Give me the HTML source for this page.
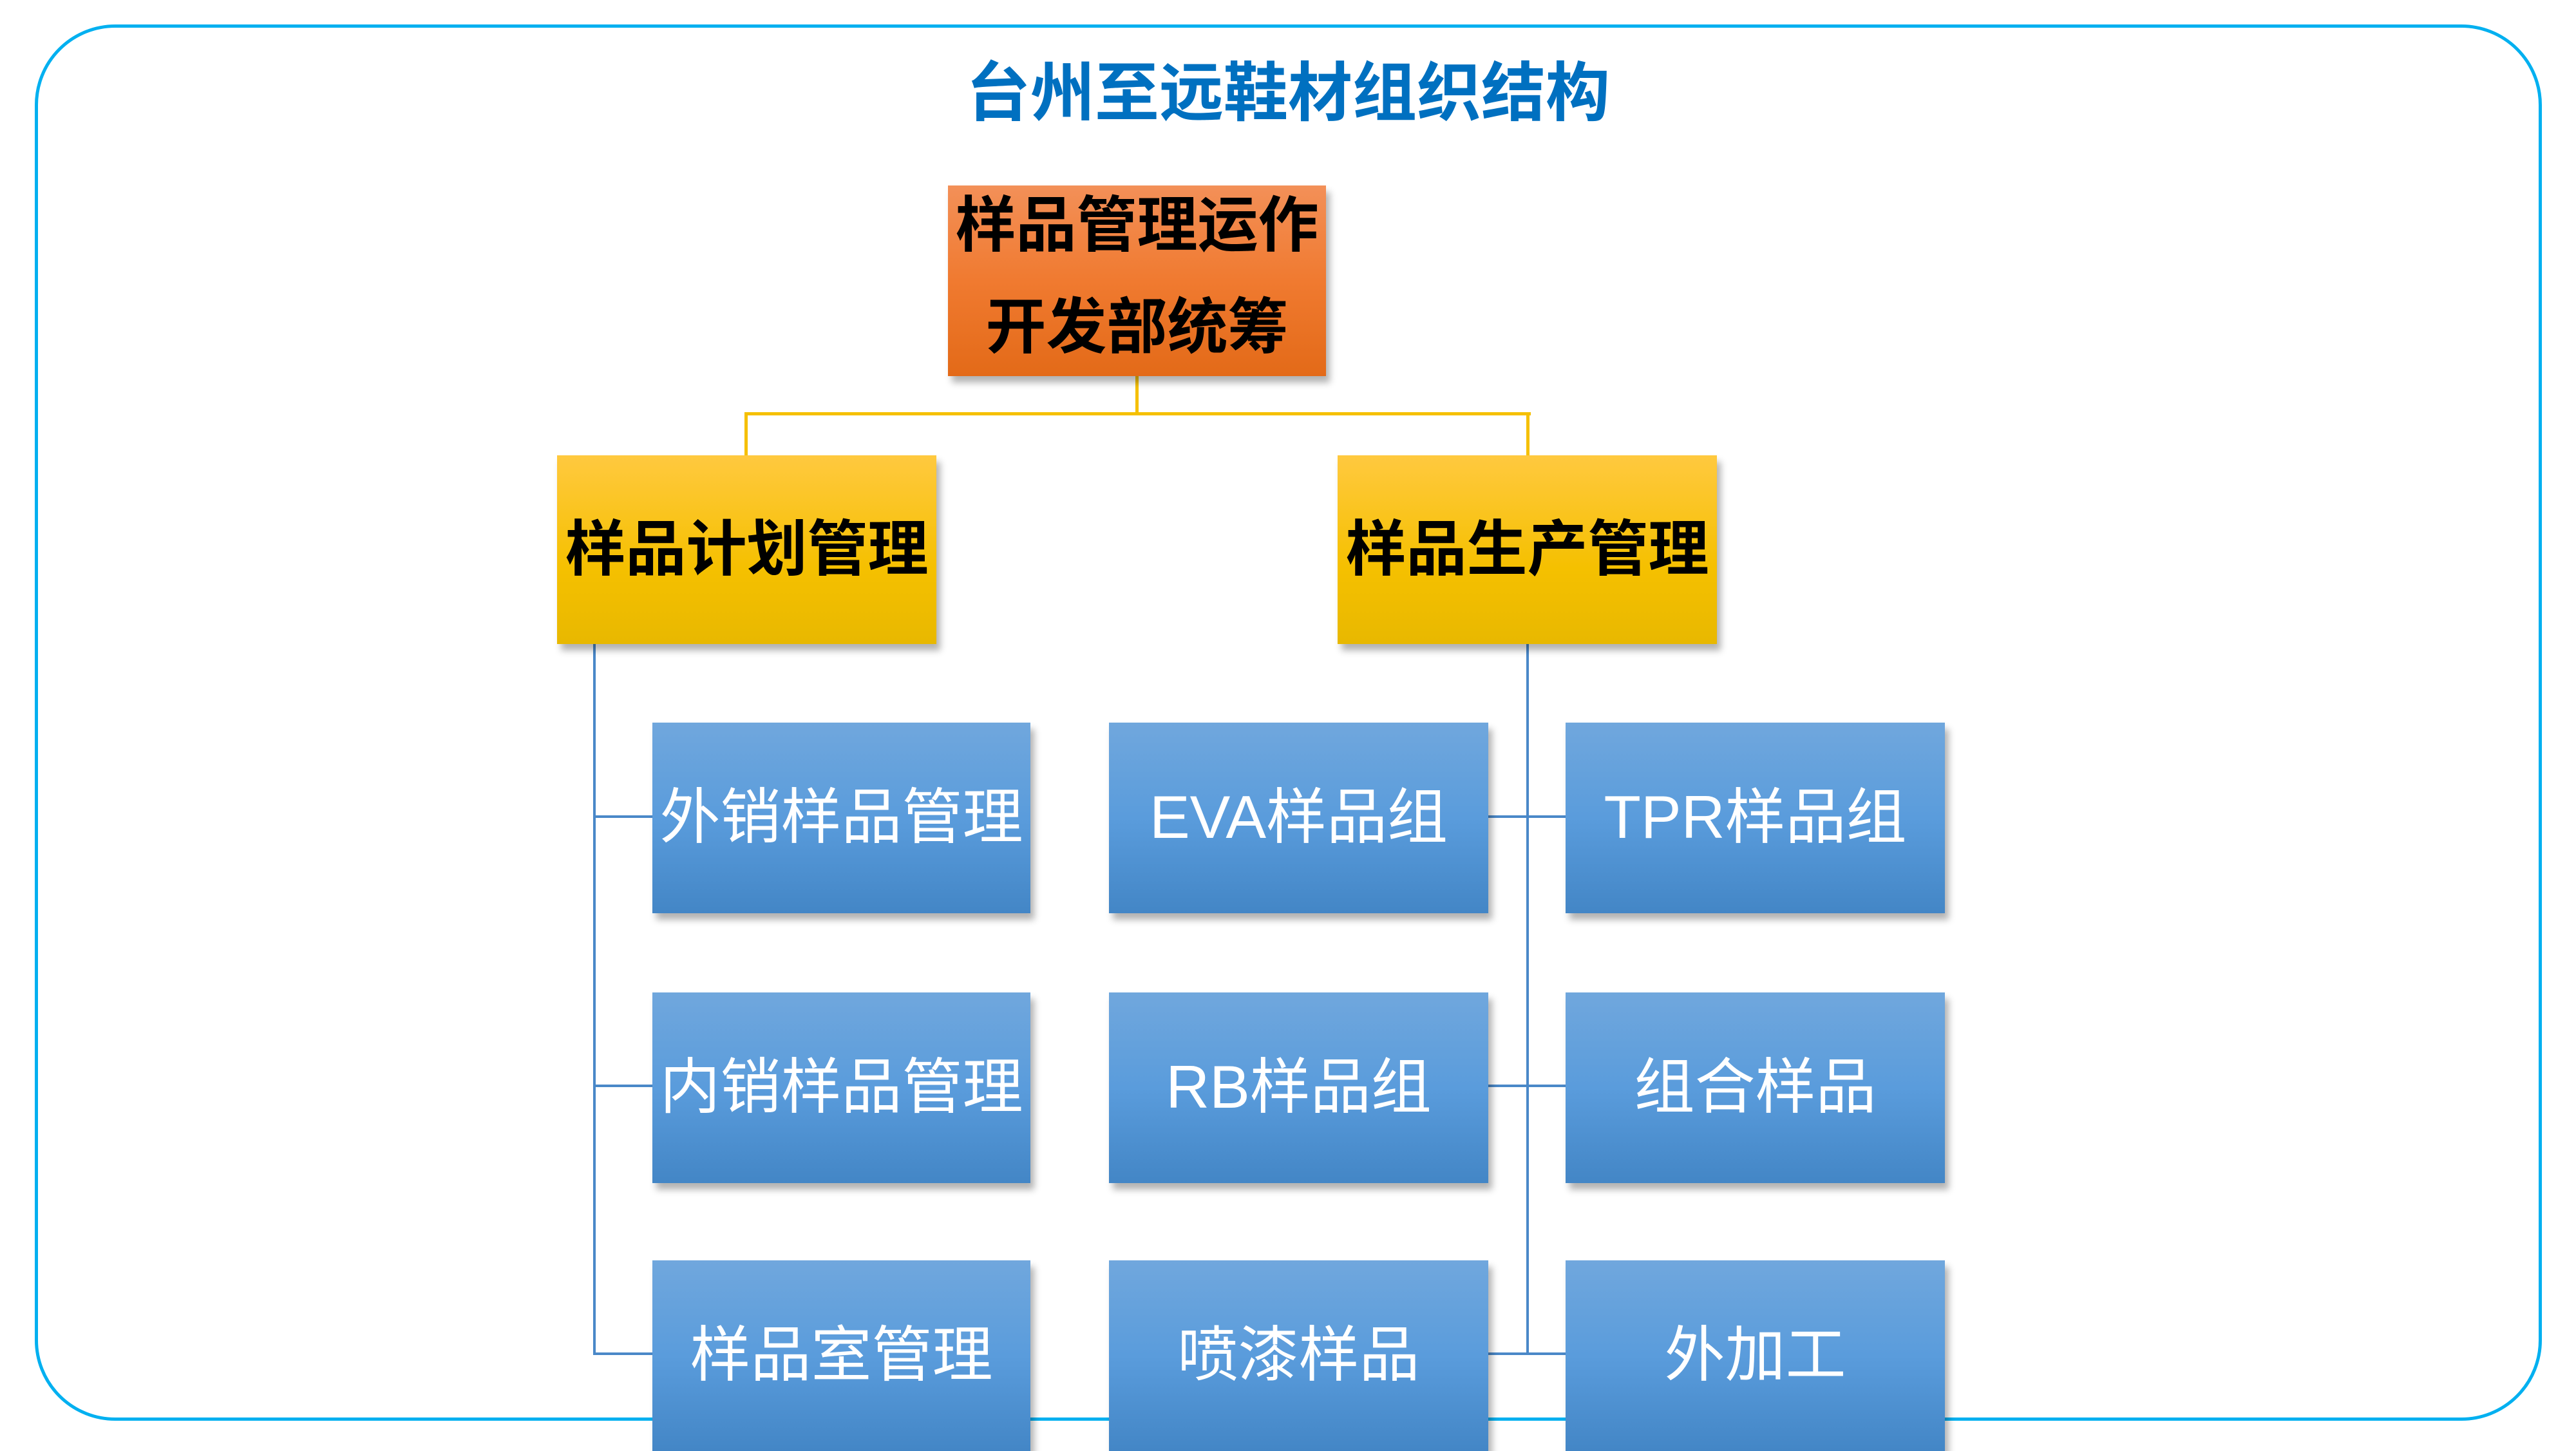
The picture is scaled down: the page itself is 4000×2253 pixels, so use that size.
<!DOCTYPE html>
<html><head><meta charset="utf-8"><style>
*{margin:0;padding:0;box-sizing:border-box}
body{width:4000px;height:2250px;overflow:hidden;background:#fff;position:relative;font-family:"Liberation Sans","Noto Sans CJK SC",sans-serif}
.frame{position:absolute;left:54px;top:38px;width:3893px;height:2168px;border:5px solid #00B0F0;border-radius:125px}
.title{position:absolute;left:0;width:4000px;top:80px;text-align:center;font-size:100px;font-weight:bold;color:#0070C0;line-height:130px}
.l{position:absolute}
.box{position:absolute;display:flex;align-items:center;justify-content:center;text-align:center;box-shadow:6px 10px 10px rgba(0,0,0,0.3);white-space:nowrap;padding-bottom:18px}
.or{background:linear-gradient(#F39058,#F07A30 50%,#E36A18);color:#000;font-weight:bold;font-size:94px;line-height:158px;padding-bottom:14px}
.ye{background:linear-gradient(#FFC93F,#F5C000 60%,#E8B800);color:#000;font-weight:bold;font-size:94px}
.bl{background:linear-gradient(#70A7DD,#5A9CDC 50%,#4386C6);color:#fff;font-size:94px}
</style></head><body>
<div class="frame"></div>
<div class="title">台州至远鞋材组织结构</div>
<div class="l" style="left:1763px;top:584px;width:5px;height:60px;background:#F5C000"></div>
<div class="l" style="left:1158px;top:640px;width:1219px;height:5px;background:#F5C000"></div>
<div class="l" style="left:1156px;top:640px;width:5px;height:68px;background:#F5C000"></div>
<div class="l" style="left:2370px;top:640px;width:5px;height:68px;background:#F5C000"></div>
<div class="l" style="left:921px;top:1000px;width:4px;height:1104px;background:#4A88C8"></div>
<div class="l" style="left:921px;top:1266px;width:95px;height:4px;background:#4A88C8"></div>
<div class="l" style="left:921px;top:1684px;width:95px;height:4px;background:#4A88C8"></div>
<div class="l" style="left:921px;top:2100px;width:95px;height:4px;background:#4A88C8"></div>
<div class="l" style="left:2370px;top:1000px;width:4px;height:1104px;background:#4A88C8"></div>
<div class="l" style="left:2308px;top:1266px;width:126px;height:4px;background:#4A88C8"></div>
<div class="l" style="left:2308px;top:1684px;width:126px;height:4px;background:#4A88C8"></div>
<div class="l" style="left:2308px;top:2100px;width:126px;height:4px;background:#4A88C8"></div>

<div class="box or" style="left:1472px;top:288px;width:587px;height:296px;flex-direction:column">样品管理运作<br>开发部统筹</div>
<div class="box ye" style="left:865px;top:707px;width:589px;height:293px">样品计划管理</div>
<div class="box ye" style="left:2077px;top:707px;width:589px;height:293px">样品生产管理</div>

<div class="box bl" style="left:1013px;top:1122px;width:587px;height:296px">外销样品管理</div>
<div class="box bl" style="left:1722px;top:1122px;width:589px;height:296px">EVA样品组</div>
<div class="box bl" style="left:2431px;top:1122px;width:589px;height:296px">TPR样品组</div>
<div class="box bl" style="left:1013px;top:1541px;width:587px;height:296px">内销样品管理</div>
<div class="box bl" style="left:1722px;top:1541px;width:589px;height:296px">RB样品组</div>
<div class="box bl" style="left:2431px;top:1541px;width:589px;height:296px">组合样品</div>
<div class="box bl" style="left:1013px;top:1957px;width:587px;height:296px">样品室管理</div>
<div class="box bl" style="left:1722px;top:1957px;width:589px;height:296px">喷漆样品</div>
<div class="box bl" style="left:2431px;top:1957px;width:589px;height:296px">外加工</div>
</body></html>
